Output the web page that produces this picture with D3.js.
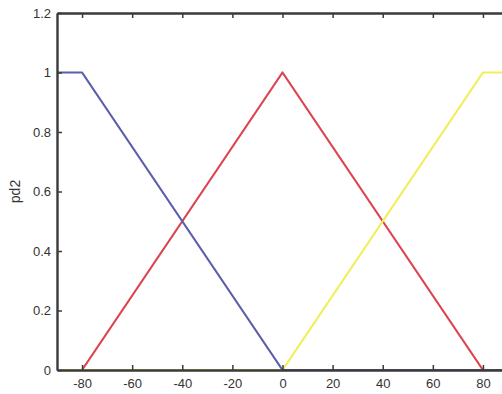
<!DOCTYPE html>
<html>
<head>
<meta charset="utf-8">
<script src="https://cdn.jsdelivr.net/npm/d3@7"></script>
<style>
  html, body { margin: 0; padding: 0; background: #fff; overflow: hidden; }
  svg { display: block; }
  text { font-family: "Liberation Sans", Arial, sans-serif; fill: #333; }
</style>
</head>
<body>
<svg id="chart" width="502" height="394"></svg>
<script>
// Membership functions for input pd2 (trapezoid breakpoints)
const xDomain = [-90, 90];
const yDomain = [0, 1.2];
const xTicks = [-80, -60, -40, -20, 0, 20, 40, 60, 80];
const xTickLabels = ["-80", "-60", "-40", "-20", "0", "20", "40", "60", "80"];
const yTicks = [0, 0.2, 0.4, 0.6, 0.8, 1, 1.2];
const yTickLabels = ["0", "0.2", "0.4", "0.6", "0.8", "1", "1.2"];

const negX = [-90, -80, 0, 90];
const negY = [1, 1, 0, 0];
const zeroX = [-90, -80, 0, 80, 90];
const zeroY = [0, 0, 1, 0, 0];
const posX = [-90, 0, 80, 90];
const posY = [0, 0, 1, 1];

const seriesColors = ["#5b5fa9", "#dc4450", "#f1ee58"];
const yLabel = "pd2";

const svg = d3.select("#chart");
const margin = { left: 57, right: -6, top: 13, bottom: 24 };
const W = 502, H = 394;

const x = d3.scaleLinear().domain(xDomain).range([margin.left, W - margin.right]);
const y = d3.scaleLinear().domain(yDomain).range([H - margin.bottom, margin.top]);

const line = d3.line().x(d => x(d[0])).y(d => y(d[1]));

const series = [
  { xs: zeroX, ys: zeroY, color: seriesColors[1] },
  { xs: posX, ys: posY, color: seriesColors[2] },
  { xs: negX, ys: negY, color: seriesColors[0] }
];

const plot = svg.append("g");
series.forEach(s => {
  plot.append("path")
    .datum(s.xs.map((v, i) => [v, s.ys[i]]))
    .attr("d", line)
    .attr("fill", "none")
    .attr("stroke", s.color)
    .attr("stroke-width", 2.2)
    .attr("stroke-linejoin", "round");
});

// Axes: ticks pointing inward, box on top and left
const axisColor = "#3a3a3a";
const bottomAxis = svg.append("g")
  .attr("transform", `translate(0,${y(0)})`)
  .call(d3.axisBottom(x).tickValues(xTicks).tickSizeInner(-5).tickSizeOuter(0).tickPadding(9)
    .tickFormat((d, i) => xTickLabels[i]));
const topAxis = svg.append("g")
  .attr("transform", `translate(0,${y(1.2)})`)
  .call(d3.axisTop(x).tickValues(xTicks).tickSizeInner(-5).tickSizeOuter(0).tickFormat(""));
const leftAxis = svg.append("g")
  .attr("transform", `translate(${x(-90)},0)`)
  .call(d3.axisLeft(y).tickValues(yTicks).tickSizeInner(-5).tickSizeOuter(0).tickPadding(6)
    .tickFormat((d, i) => yTickLabels[i]));

[bottomAxis, topAxis, leftAxis].forEach(g => {
  g.select(".domain").attr("stroke", axisColor).attr("stroke-width", 2.4);
  g.selectAll(".tick line").attr("stroke", axisColor).attr("stroke-width", 1.5);
  g.selectAll(".tick text").attr("font-size", 13).attr("fill", "#444")
    .style("font-family", "'Liberation Sans', Arial, sans-serif");
});

svg.append("text")
  .attr("transform", `translate(20,${(y(0) + y(1.2)) / 2}) rotate(-90)`)
  .attr("text-anchor", "middle")
  .attr("font-size", 14)
  .attr("fill", "#444")
  .text(yLabel);
</script>
</body>
</html>
